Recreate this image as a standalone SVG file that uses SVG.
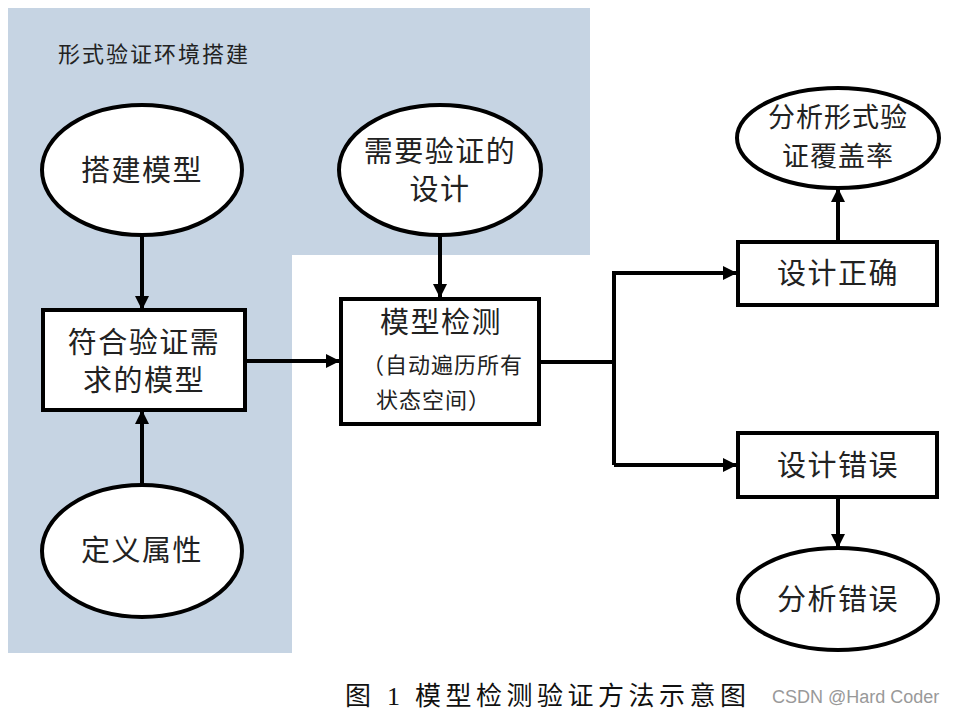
<svg xmlns="http://www.w3.org/2000/svg" width="957" height="715" viewBox="0 0 957 715">
<style>
.shape{fill:#fff;stroke:#000;stroke-width:4}
.line{fill:none;stroke:#000;stroke-width:4}
.t{font-family:"Noto Sans CJK SC","Noto Sans",sans-serif;fill:#222;text-anchor:middle}
.big{font-size:29px;letter-spacing:1.5px}
.mid{font-size:22px;letter-spacing:1px}
</style>
<defs>
<marker id="arr" markerWidth="14" markerHeight="14" refX="13" refY="7" orient="auto" markerUnits="userSpaceOnUse">
<path d="M0,0 L14,7 L0,14 Z" fill="#000"/>
</marker>
</defs>
<rect width="957" height="715" fill="#fff"/>
<path id="env" d="M8,8 H590 V255 H292 V653 H8 Z" fill="#c6d4e3"/>
<text x="58" y="62" class="t" style="font-size:22px;letter-spacing:2px;text-anchor:start" fill="#333">形式验证环境搭建</text>

<g id="connectors">
<line class="line" x1="142" y1="235" x2="142" y2="309" marker-end="url(#arr)"/>
<line class="line" x1="142" y1="485" x2="142" y2="411" marker-end="url(#arr)"/>
<line class="line" x1="245" y1="361" x2="339" y2="361" marker-end="url(#arr)"/>
<line class="line" x1="440" y1="235" x2="440" y2="297" marker-end="url(#arr)"/>
<polyline class="line" points="540,362 614,362"/>
<polyline class="line" points="614,465 614,273 736,273" marker-end="url(#arr)"/>
<line class="line" x1="614" y1="465" x2="736" y2="465" marker-end="url(#arr)"/>
<line class="line" x1="838" y1="242" x2="838" y2="189" marker-end="url(#arr)"/>
<line class="line" x1="838" y1="497" x2="838" y2="547" marker-end="url(#arr)"/>
</g>

<g id="build-model">
<ellipse class="shape" cx="142" cy="170" rx="100" ry="65"/>
<text x="142" y="181" class="t big">搭建模型</text>
</g>
<g id="design">
<ellipse class="shape" cx="440" cy="170" rx="101" ry="65"/>
<text x="440" y="162" class="t big">需要验证的</text>
<text x="440" y="200" class="t big">设计</text>
</g>
<g id="model">
<rect class="shape" x="43" y="310" width="202" height="100"/>
<text x="144" y="353" class="t big">符合验证需</text>
<text x="144" y="391" class="t big">求的模型</text>
</g>
<g id="property">
<ellipse class="shape" cx="142" cy="551" rx="100" ry="66"/>
<text x="142" y="561" class="t big">定义属性</text>
</g>
<g id="check">
<rect class="shape" x="341" y="299" width="198" height="125"/>
<text x="441" y="333" class="t big">模型检测</text>
<text x="362" y="373" class="t mid" style="text-anchor:start">（自动遍历所有</text>
<text x="376" y="408" class="t mid" style="text-anchor:start">状态空间）</text>
</g>
<g id="correct">
<rect class="shape" x="738" y="242" width="199" height="63"/>
<text x="838" y="284" class="t big">设计正确</text>
</g>
<g id="coverage">
<ellipse class="shape" cx="838" cy="138" rx="101" ry="50"/>
<text x="838" y="127" class="t" style="font-size:27px;letter-spacing:1px">分析形式验</text>
<text x="838" y="166" class="t" style="font-size:27px;letter-spacing:1px">证覆盖率</text>
</g>
<g id="wrong">
<rect class="shape" x="738" y="433" width="199" height="64"/>
<text x="838" y="476" class="t big">设计错误</text>
</g>
<g id="analyze">
<ellipse class="shape" cx="838" cy="599" rx="100" ry="51"/>
<text x="838" y="610" class="t big">分析错误</text>
</g>

<text y="705" style="font-family:'Liberation Serif','Noto Sans CJK SC',serif;font-size:26px" fill="#111"><tspan x="345">图</tspan><tspan x="387">1</tspan><tspan x="415" style="letter-spacing:4.5px">模型检测验证方法示意图</tspan></text>
<text x="772" y="703" style="font-family:'Liberation Sans',Arial,sans-serif;font-size:18px" fill="#999">CSDN @Hard Coder</text>
</svg>
